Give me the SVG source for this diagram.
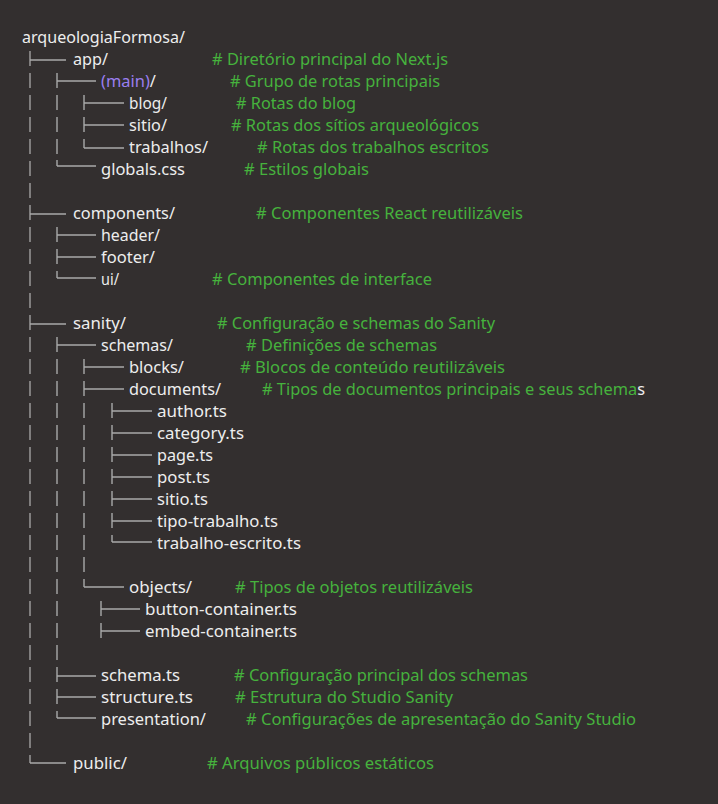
<svg xmlns="http://www.w3.org/2000/svg" width="718" height="804" viewBox="0 0 718 804">
  <style>
    text { font-family: "Noto Sans", "Open Sans", sans-serif; font-size: 16px; }
    .name { fill: #ededed; }
    .note { fill: #46b23d; }
    .grp { fill: #9a7ef0; }
    .v0 { stroke: #b4b4b4; stroke-width: 1.2; fill: none; }
    .v { stroke: #8e8e8e; stroke-width: 1.8; fill: none; }
    .h { stroke: #a9a9a9; stroke-width: 1.4; fill: none; }
  </style>
  <rect width="718" height="804" fill="#332f2f"/>

  <!-- tree connectors: guide bars (one per row) and branch ticks -->
  <g id="connectors">
    <!-- level 0 guide, x=30 -->
    <path class="v0" d="M30 51V66M30 73V88M30 95V110M30 117V132M30 139V154M30 161V176M30 183V198M30 205V220M30 227V242M30 249V264M30 271V286M30 293V308M30 315V330M30 337V352M30 359V374M30 381V396M30 403V418M30 425V440M30 447V462M30 469V484M30 491V506M30 513V528M30 535V550M30 557V572M30 579V594M30 601V616M30 623V638M30 645V660M30 667V682M30 689V704M30 711V726M30 733V748M30 755V763"/>
    <path class="h" d="M30 60H66M30 214H66M30 324H66M30 763H66"/>

    <!-- level 1 guide, x=57 -->
    <path class="v" d="M57 73V88M57 95V110M57 117V132M57 139V154M57 160V166"/>
    <path class="v" d="M57 227V242M57 249V264M57 271V278"/>
    <path class="v" d="M57 337V352M57 359V374M57 381V396M57 403V418M57 425V440M57 447V462M57 469V484M57 491V506M57 513V528M57 535V550M57 557V572M57 579V594M57 601V616M57 623V638M57 645V660M57 667V682M57 689V704M57 711V718"/>
    <path class="h" d="M57 81H96M57 166H96M57 235H96M57 257H96M57 278H96M57 345H96M57 676H96M57 697H96M57 718H96"/>

    <!-- level 2 guide, x=84 -->
    <path class="v" d="M84 95V110M84 117V132M84 139V148"/>
    <path class="v" d="M84 359V374M84 381V396M84 403V418M84 425V440M84 447V462M84 469V484M84 491V506M84 513V528M84 535V550M84 557V572M84 579V587"/>
    <path class="h" d="M84 103H124M84 125H124M84 148H124M84 367H124M84 389H124M84 587H124"/>

    <!-- level 3 guide, x=112 -->
    <path class="v" d="M112 403V418M112 425V440M112 447V462M112 469V484M112 491V506M112 513V528M112 535V542"/>
    <path class="h" d="M112 411H152M112 433H152M112 455H152M112 477H152M112 499H152M112 521H152M112 542H152"/>

    <!-- objects children, x=101 -->
    <path class="v" d="M101 601V616M101 623V638"/>
    <path class="h" d="M101 609H140M101 631H140"/>
  </g>

  <g id="root"><text class="name" x="22" y="43" textLength="163" lengthAdjust="spacingAndGlyphs">arqueologiaFormosa/</text></g>

  <g id="app">
    <text class="name" x="73" y="65" textLength="35" lengthAdjust="spacingAndGlyphs">app/</text>
    <text class="note" x="212" y="65" textLength="236" lengthAdjust="spacingAndGlyphs"># Diretório principal do Next.js</text>
  </g>
  <g id="main">
    <text class="name" x="101" y="87" textLength="55" lengthAdjust="spacingAndGlyphs"><tspan class="grp">(main)</tspan>/</text>
    <text class="note" x="230" y="87" textLength="210" lengthAdjust="spacingAndGlyphs"># Grupo de rotas principais</text>
  </g>
  <g id="blog">
    <text class="name" x="129" y="109" textLength="38" lengthAdjust="spacingAndGlyphs">blog/</text>
    <text class="note" x="236" y="109" textLength="120" lengthAdjust="spacingAndGlyphs"># Rotas do blog</text>
  </g>
  <g id="sitio">
    <text class="name" x="129" y="131" textLength="38" lengthAdjust="spacingAndGlyphs">sitio/</text>
    <text class="note" x="231" y="131" textLength="248" lengthAdjust="spacingAndGlyphs"># Rotas dos sítios arqueológicos</text>
  </g>
  <g id="trabalhos">
    <text class="name" x="129" y="153" textLength="79" lengthAdjust="spacingAndGlyphs">trabalhos/</text>
    <text class="note" x="257" y="153" textLength="232" lengthAdjust="spacingAndGlyphs"># Rotas dos trabalhos escritos</text>
  </g>
  <g id="globals-css">
    <text class="name" x="101" y="175" textLength="84" lengthAdjust="spacingAndGlyphs">globals.css</text>
    <text class="note" x="244" y="175" textLength="125" lengthAdjust="spacingAndGlyphs"># Estilos globais</text>
  </g>

  <g id="components">
    <text class="name" x="73" y="219" textLength="102" lengthAdjust="spacingAndGlyphs">components/</text>
    <text class="note" x="256" y="219" textLength="267" lengthAdjust="spacingAndGlyphs"># Componentes React reutilizáveis</text>
  </g>
  <g id="header"><text class="name" x="101" y="241" textLength="59" lengthAdjust="spacingAndGlyphs">header/</text></g>
  <g id="footer"><text class="name" x="101" y="263" textLength="54" lengthAdjust="spacingAndGlyphs">footer/</text></g>
  <g id="ui">
    <text class="name" x="101" y="285" textLength="18" lengthAdjust="spacingAndGlyphs">ui/</text>
    <text class="note" x="212" y="285" textLength="220" lengthAdjust="spacingAndGlyphs"># Componentes de interface</text>
  </g>

  <g id="sanity">
    <text class="name" x="73" y="329" textLength="53" lengthAdjust="spacingAndGlyphs">sanity/</text>
    <text class="note" x="217" y="329" textLength="278" lengthAdjust="spacingAndGlyphs"># Configuração e schemas do Sanity</text>
  </g>
  <g id="schemas">
    <text class="name" x="101" y="351" textLength="72" lengthAdjust="spacingAndGlyphs">schemas/</text>
    <text class="note" x="246" y="351" textLength="191" lengthAdjust="spacingAndGlyphs"># Definições de schemas</text>
  </g>
  <g id="blocks">
    <text class="name" x="129" y="373" textLength="55" lengthAdjust="spacingAndGlyphs">blocks/</text>
    <text class="note" x="240" y="373" textLength="265" lengthAdjust="spacingAndGlyphs"># Blocos de conteúdo reutilizáveis</text>
  </g>
  <g id="documents">
    <text class="name" x="129" y="395" textLength="92" lengthAdjust="spacingAndGlyphs">documents/</text>
    <text class="note" x="262" y="395" textLength="383" lengthAdjust="spacingAndGlyphs"># Tipos de documentos principais e seus schema<tspan class="name">s</tspan></text>
  </g>
  <g id="author-ts"><text class="name" x="157" y="417" textLength="70" lengthAdjust="spacingAndGlyphs">author.ts</text></g>
  <g id="category-ts"><text class="name" x="157" y="439" textLength="87" lengthAdjust="spacingAndGlyphs">category.ts</text></g>
  <g id="page-ts"><text class="name" x="157" y="461" textLength="56" lengthAdjust="spacingAndGlyphs">page.ts</text></g>
  <g id="post-ts"><text class="name" x="157" y="483" textLength="53" lengthAdjust="spacingAndGlyphs">post.ts</text></g>
  <g id="sitio-ts"><text class="name" x="157" y="505" textLength="51" lengthAdjust="spacingAndGlyphs">sitio.ts</text></g>
  <g id="tipo-trabalho-ts"><text class="name" x="157" y="527" textLength="121" lengthAdjust="spacingAndGlyphs">tipo-trabalho.ts</text></g>
  <g id="trabalho-escrito-ts"><text class="name" x="157" y="549" textLength="144" lengthAdjust="spacingAndGlyphs">trabalho-escrito.ts</text></g>
  <g id="objects">
    <text class="name" x="129" y="593" textLength="63" lengthAdjust="spacingAndGlyphs">objects/</text>
    <text class="note" x="235" y="593" textLength="238" lengthAdjust="spacingAndGlyphs"># Tipos de objetos reutilizáveis</text>
  </g>
  <g id="button-container-ts"><text class="name" x="145" y="615" textLength="152" lengthAdjust="spacingAndGlyphs">button-container.ts</text></g>
  <g id="embed-container-ts"><text class="name" x="145" y="637" textLength="152" lengthAdjust="spacingAndGlyphs">embed-container.ts</text></g>
  <g id="schema-ts">
    <text class="name" x="101" y="681" textLength="79" lengthAdjust="spacingAndGlyphs">schema.ts</text>
    <text class="note" x="234" y="681" textLength="294" lengthAdjust="spacingAndGlyphs"># Configuração principal dos schemas</text>
  </g>
  <g id="structure-ts">
    <text class="name" x="101" y="703" textLength="92" lengthAdjust="spacingAndGlyphs">structure.ts</text>
    <text class="note" x="235" y="703" textLength="218" lengthAdjust="spacingAndGlyphs"># Estrutura do Studio Sanity</text>
  </g>
  <g id="presentation">
    <text class="name" x="101" y="725" textLength="105" lengthAdjust="spacingAndGlyphs">presentation/</text>
    <text class="note" x="246" y="725" textLength="390" lengthAdjust="spacingAndGlyphs"># Configurações de apresentação do Sanity Studio</text>
  </g>

  <g id="public">
    <text class="name" x="73" y="769" textLength="54" lengthAdjust="spacingAndGlyphs">public/</text>
    <text class="note" x="207" y="769" textLength="227" lengthAdjust="spacingAndGlyphs"># Arquivos públicos estáticos</text>
  </g>
</svg>
